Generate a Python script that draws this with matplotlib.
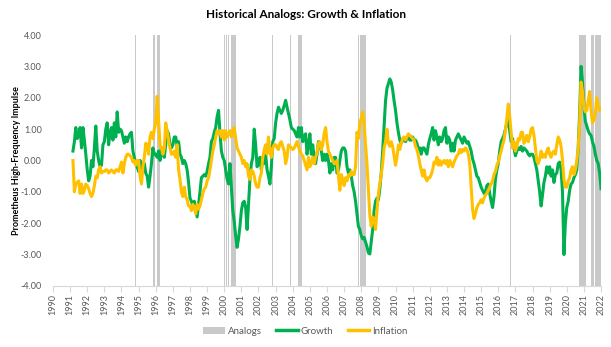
import numpy as np
import pandas as pd
import matplotlib
matplotlib.use('Agg')
import matplotlib.pyplot as plt
from matplotlib.patches import Patch
from matplotlib.lines import Line2D

# monthly readings, first point = Mar 1991, last point = Jan 2022
growth = [
    0.3, 0.6, 1.05, 0.7, 0.8, 1.05, 0.4, 1.05, 0.65, 0.2,                       # 1991 (Mar-Dec)
    -0.3, -0.65, -0.5, 0.0, -0.2, 0.4, 1.1, 0.3, 0.0, -0.2, -0.15, 0.5,         # 1992
    0.6, 1.0, 1.2, 0.5, 0.9, 1.05, 0.65, 1.2, 0.75, 1.55, 0.9, 1.0,             # 1993
    0.95, 0.75, 0.55, 0.75, 0.6, 0.75, 0.85, 0.9, 0.3, 0.1, -0.1, -0.2,         # 1994
    -0.35, 0.0, -0.2, -0.3, -0.1, -0.4, -0.5, -0.85, -0.5, -0.1, 0.4, 0.2,      # 1995
    0.2, 0.1, 0.3, 0.0, 0.4, 0.2, 0.1, 0.5, 0.95, 0.85, 0.5, 0.4,               # 1996
    0.5, 0.75, 0.75, 0.45, 0.6, 0.2, 0.1, -0.1, 0.0, -0.1, -0.3, -0.7,          # 1997
    -1.2, -1.3, -1.45, -1.3, -1.55, -1.8, -1.4, -1.0, -0.55, -0.5, -0.45, -0.5, # 1998
    -0.35, -0.1, 0.1, 0.6, 0.7, 0.9, 1.05, 1.4, 1.6, 0.9, 0.3, 0.1,             # 1999
    0.0, -0.3, -0.6, -0.75, -0.1, -0.85, -1.6, -1.95, -2.4, -2.77, -2.5, -2.1,  # 2000
    -1.6, -1.35, -1.3, -1.5, -2.2, -1.4, -0.6, -0.1, 0.1, 1.0, 0.5, -0.2,       # 2001
    -0.1, 0.1, -0.3, 0.1, -0.1, 0.2, -0.3, -0.5, -0.75, -0.2, 0.6, 0.7,         # 2002
    1.2, 1.5, 1.7, 1.6, 1.5, 1.6, 1.75, 1.92, 1.7, 1.5, 1.3, 1.05,              # 2003
    1.0, 0.96, 0.85, 0.75, 1.05, 0.75, 1.05, 0.6, 0.75, 0.85, 0.2, 0.5,         # 2004
    0.85, 0.2, 0.5, 0.1, -0.1, 0.2, 0.6, 0.5, 0.3, 0.0, 0.2, 0.0,               # 2005
    0.2, 0.0, -0.4, -0.1, -0.3, 0.1, 0.1, -0.4, -0.3, 0.0, 0.3, 0.4,            # 2006
    0.4, 0.3, -0.2, -0.4, -0.3, -0.5, -0.8, -1.0, -1.3, -1.7, -2.1, -2.2,       # 2007
    -2.4, -2.5, -2.45, -2.6, -2.75, -2.95, -2.98, -2.6, -2.2, -1.6, -1.3, -1.2, # 2008
    -1.25, -0.9, -0.4, 0.3, 1.1, 1.9, 2.3, 2.45, 2.6, 2.5, 2.25, 1.9,           # 2009
    1.6, 1.2, 0.9, 0.65, 0.55, 0.65, 0.7, 0.6, 0.7, 0.75, 0.65, 0.65,           # 2010
    0.75, 0.65, 0.65, 0.55, 0.35, 0.4, 0.2, 0.4, 0.4, 0.3, 0.2, 0.5,            # 2011
    0.7, 0.85, 1.05, 0.65, 0.95, 0.75, 0.5, 0.75, 0.6, 0.7, 0.95, 1.05,         # 2012
    0.55, 0.75, 0.65, 0.3, 0.55, 0.3, 0.65, 0.75, 0.85, 0.75, 0.65, 0.55,       # 2013
    0.75, 0.65, 0.55, 0.6, 0.45, 0.3, 0.05, -0.1, -0.3, -0.5, -0.55, -0.7,      # 2014
    -0.85, -0.95, -1.05, -1.0, -0.8, -0.75, -1.05, -1.3, -1.5, -1.15, -0.6, -0.3, # 2015
    -0.1, 0.3, 0.6, 0.7, 0.8, 1.0, 1.2, 1.3, 0.95, 0.6, 0.7, 0.4,               # 2016
    0.15, 0.3, 0.4, 0.35, 0.45, 0.3, 0.4, 0.35, 0.3, 0.2, 0.15, 0.2,            # 2017
    0.2, 0.1, -0.1, -0.3, -0.65, -1.0, -1.45, -1.1, -0.7, -0.5, -0.2, -0.4,     # 2018
    -0.2, -0.5, -0.3, -0.7, -0.45, -0.4, -0.1, -0.05, -0.3, -1.0, -3.0, -2.0,   # 2019
    -1.5, -1.3, -0.95, -0.75, -0.7, -0.55, -0.45, -0.3, 0.4, 1.5, 3.0, 2.5,     # 2020
    1.75, 1.25, 1.1, 0.95, 0.85, 0.8, 0.6, 0.45, 0.2, 0.0, -0.1, -0.4,          # 2021
    -0.9,                                                                       # 2022
]

inflation = [
    0.0, -1.0, -0.75, -0.7, -0.65, -1.05, -0.75, -1.05, -0.95, -0.75,            # 1991 (Mar-Dec)
    -0.8, -0.9, -1.05, -1.15, -1.05, -0.8, -0.5, -0.55, -0.3, -0.2, -0.4, -0.35, # 1992
    -0.35, -0.3, -0.3, -0.4, -0.35, -0.3, -0.35, -0.4, -0.3, -0.3, -0.35, -0.2,  # 1993
    -0.05, -0.4, -0.1, 0.1, 0.2, 0.2, 0.15, 0.1, -0.05, 0.0, -0.15, 0.0,         # 1994
    0.0, -0.5, -0.75, -0.2, 0.1, 0.55, 0.5, 0.2, 0.75, 0.9, 0.7, 1.0,            # 1995
    1.2, 2.05, 1.25, 0.5, 0.4, 0.2, 0.4, 1.2, 0.95, 0.65, 0.4, 0.2,              # 1996
    0.2, 0.3, 0.1, 0.5, -0.3, -0.6, -1.0, -1.15, -0.85, -1.15, -1.25, -1.45,     # 1997
    -1.45, -1.6, -1.4, -1.5, -1.7, -1.4, -1.55, -1.45, -1.25, -1.05, -0.9, -0.85, # 1998
    -0.65, -0.55, -0.3, 0.0, 0.3, 0.5, 0.75, 0.95, 0.85, 0.95, 0.75, 0.95,       # 1999
    0.65, 0.95, 0.75, 0.85, 0.95, 0.75, 0.95, 1.05, 0.7, 0.4, 0.3, 0.2,          # 2000
    0.1, -0.1, 0.0, -0.2, -0.1, -0.5, -0.6, -0.3, -0.35, -0.5, -0.75, -0.85,     # 2001
    -0.85, -0.55, -0.4, 0.1, 0.35, 0.5, 0.2, 0.75, 0.3, 0.1, 0.4, 0.5,           # 2002
    0.5, 0.4, 0.35, 0.55, 0.6, 0.45, 0.3, -0.1, 0.1, 0.5, 0.45, 0.4,             # 2003
    0.35, 0.4, 0.5, 0.6, 0.45, 0.3, 0.2, 0.15, 0.0, -0.15, -0.3, 0.1,            # 2004
    -0.2, -0.1, 0.1, -0.1, 0.1, 0.25, 0.55, 0.6, 0.35, 0.5, 0.85, 1.05,          # 2005
    0.6, 0.3, 0.2, 0.1, 0.0, -0.1, -0.1, 0.0, -0.5, -0.95, -0.45, -0.6,          # 2006
    -0.8, -0.55, -0.65, -0.45, -0.5, -0.35, -0.45, -0.45, -0.2, 0.9, 0.7, 1.2,   # 2007
    1.35, 1.55, 1.2, 0.5, -0.1, -0.95, -1.75, -2.1, -1.8, -1.85, -2.2, -1.6,     # 2008
    -1.05, -0.75, -0.45, -0.1, 0.4, 0.6, 1.0, 0.55, 0.45, 0.6, 0.45, 0.15,       # 2009
    -0.15, 0.1, 0.5, 0.35, 0.55, 0.7, 0.75, 0.65, 0.75, 0.85, 0.8, 0.75,         # 2010
    0.7, 0.65, 0.45, 0.35, 0.15, -0.1, -0.3, -0.5, -0.3, -0.55, -0.65, -0.55,    # 2011
    -0.55, -0.45, -0.3, -0.05, -0.1, 0.1, -0.15, 0.0, -0.15, -0.05, 0.0, -0.1,   # 2012
    0.0, -0.2, 0.0, -0.1, -0.2, -0.05, 0.05, 0.15, 0.2, 0.35, 0.25, 0.35,        # 2013
    0.3, 0.4, 0.35, 0.2, -0.1, -0.85, -1.55, -1.85, -1.7, -1.5, -1.4, -1.35,     # 2014
    -1.25, -1.35, -1.2, -1.1, -1.05, -0.95, -0.85, -0.75, -0.65, -0.45, -0.35, -0.15, # 2015
    -0.05, 0.15, 0.3, 0.5, 0.65, 0.95, 1.35, 1.8, 1.4, 0.9, 0.4, 0.6,            # 2016
    0.3, 0.45, 0.7, 0.65, 0.9, 0.9, 0.55, 0.65, 0.8, 0.6, 0.75, 1.0,             # 2017
    1.05, 0.8, 0.4, 0.0, -0.1, 0.05, 0.3, 0.1, 0.2, 0.1, 0.3, 0.4,               # 2018
    0.2, 0.1, 0.25, 0.3, 0.2, 0.5, 0.75, 0.65, 0.45, 0.0, -0.6, -0.85,           # 2019
    -0.85, -0.65, -0.55, -0.3, -0.2, -0.45, -0.3, 0.0, 0.4, 1.2, 2.5, 2.2,       # 2020
    1.7, 1.55, 1.6, 1.9, 2.2, 1.6, 1.2, 1.3, 1.5, 2.0, 1.75, 1.6,                # 2021
    1.65,                                                                        # 2022
]

# analog windows (decimal years)
analog_start = [1994.79, 1995.83, 1996.06, 2000.00, 2000.10, 2000.20, 2000.37, 2002.79,
                2003.84, 2004.30, 2007.83, 2007.95, 2016.69, 2020.72, 2021.40, 2021.67]
analog_end = [1994.84, 1995.95, 1996.23, 2000.05, 2000.15, 2000.25, 2000.66, 2002.84,
              2003.92, 2004.52, 2007.88, 2008.30, 2016.74, 2021.15, 2021.60, 2022.00]

years = list(range(1990, 2023))

dates = pd.date_range('1991-03-01', periods=len(growth), freq='MS')
x = dates.year + (dates.month - 1) / 12.0

plt.rcParams['font.family'] = ['Lato', 'DejaVu Sans']

GREEN = '#00B050'
GOLD = '#FFC000'
GREY = '#C9C9C9'
TXT = '#595959'

fig = plt.figure(figsize=(6.11, 3.47), dpi=100)
ax = fig.add_axes([0.0867, 0.176, 0.897, 0.723])

for s, e in zip(analog_start, analog_end):
    ax.axvspan(s, e, color=GREY, lw=0, zorder=1)

ax.plot(x, growth, color=GREEN, lw=2.2, zorder=3)
ax.plot(x, inflation, color=GOLD, lw=2.2, zorder=4)

ax.set_xlim(1990, 2022)
ax.set_ylim(-4, 4)
for side in ['left', 'right', 'top']:
    ax.spines[side].set_visible(False)
ax.spines['bottom'].set_color('#D9D9D9')

ax.set_xticks(years)
ax.set_xticklabels([str(y) for y in years])
ax.set_yticks(np.arange(-4, 5, 1))
ax.set_yticklabels(['%.2f' % v for v in np.arange(-4, 5, 1)])
ax.tick_params(axis='y', length=0, pad=8, labelsize=6.5, labelcolor=TXT)
ax.tick_params(axis='x', length=4, color='#D9D9D9', pad=2, labelsize=6.5,
               labelcolor=TXT, labelrotation=90)

ax.set_ylabel('Prometheus High-Frequency Impulse', fontsize=6.5, fontweight='bold',
              color='black')
ax.yaxis.set_label_coords(-0.058, 0.5)
fig.suptitle('Historical Analogs: Growth & Inflation', fontsize=8.5, fontweight='bold',
             y=0.975)

handles = [Patch(facecolor=GREY, edgecolor='none'),
           Line2D([0], [0], color=GREEN, lw=2.5),
           Line2D([0], [0], color=GOLD, lw=2.5)]
fig.legend(handles, ['Analogs', 'Growth', 'Inflation'], loc='center', ncol=3,
           bbox_to_anchor=(0.5, 0.046), frameon=False, fontsize=7,
           handlelength=2.2, handletextpad=0.3, columnspacing=1.5,
           labelcolor=TXT)

fig.savefig('out.png', dpi=100)
